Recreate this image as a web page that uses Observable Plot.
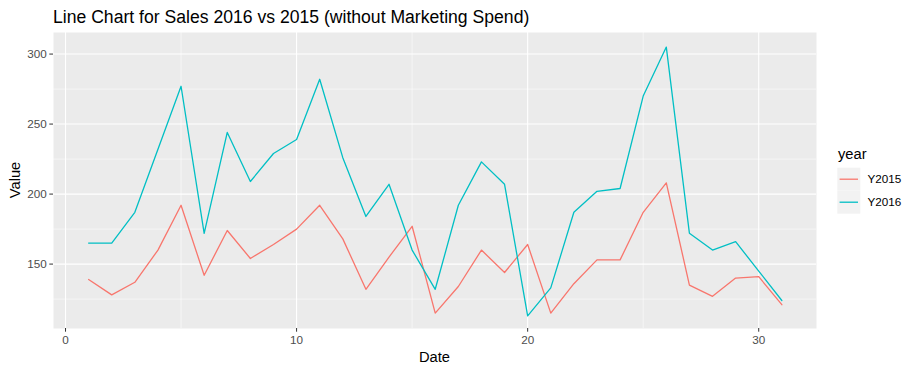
<!DOCTYPE html>
<html>
<head>
<meta charset="utf-8">
<script src="https://cdn.jsdelivr.net/npm/d3@7"></script>
<script src="https://cdn.jsdelivr.net/npm/@observablehq/plot@0.6"></script>
<style>
  html, body { margin: 0; padding: 0; background: white; }
  #chart svg { display: block; }
</style>
</head>
<body>
<div id="chart"></div>
<script>
const titleText = "Line Chart for Sales 2016 vs 2015 (without Marketing Spend)";
const xTitle = "Date";
const yTitle = "Value";
const legendTitle = "year";
const seriesNames = ["Y2015", "Y2016"];
const seriesColors = ["#F8766D", "#00BFC4"];

const dates = [1,2,3,4,5,6,7,8,9,10,11,12,13,14,15,16,17,18,19,20,21,22,23,24,25,26,27,28,29,30,31];
const y2015 = [139,128,137,160,192,142,174,154,164,175,192,168,132,155,177,115,134,160,144,164,115,136,153,153,187,208,135,127,140,141,121];
const y2016 = [165,165,187,232,277,172,244,209,229,239,282,226,184,207,160,132,192,223,207,113,133,187,202,204,270,305,172,160,166,145,124];

const xMajor = [0,10,20,30];
const xMinor = [5,15,25];
const yMajor = [150,200,250,300];
const yMinor = [125,175,225,275];

const rows = [];
dates.forEach((d, i) => {
  rows.push({date: d, value: y2015[i], year: seriesNames[0]});
});
dates.forEach((d, i) => {
  rows.push({date: d, value: y2016[i], year: seriesNames[1]});
});

const W = 918, H = 373;
const mL = 53, mR = 102, mT = 32, mB = 45;
const font = "'Liberation Sans', Arial, sans-serif";

const chart = Plot.plot({
  width: W,
  height: H,
  marginLeft: mL,
  marginRight: mR,
  marginTop: mT,
  marginBottom: mB,
  style: {fontFamily: font, fontSize: "11.7px", background: "white", color: "#4D4D4D"},
  x: {domain: [-0.52, 32.5]},
  y: {domain: [104, 315.4]},
  color: {domain: seriesNames, range: seriesColors},
  marks: [
    Plot.frame({fill: "#EBEBEB", stroke: null}),
    Plot.gridX(xMinor, {stroke: "white", strokeOpacity: 1, strokeWidth: 0.55}),
    Plot.gridY(yMinor, {stroke: "white", strokeOpacity: 1, strokeWidth: 0.55}),
    Plot.gridX(xMajor, {stroke: "white", strokeOpacity: 1, strokeWidth: 1.1}),
    Plot.gridY(yMajor, {stroke: "white", strokeOpacity: 1, strokeWidth: 1.1}),
    Plot.line(rows, {x: "date", y: "value", stroke: "year", z: "year", strokeWidth: 1.3}),
    Plot.axisX(xMajor, {tickSize: 3.7, tickPadding: 3, label: null, color: "#4D4D4D", stroke: "#333333", fontSize: 11.7}),
    Plot.axisY(yMajor, {tickSize: 3.7, tickPadding: 3, label: null, color: "#4D4D4D", stroke: "#333333", fontSize: 11.7})
  ]
});

document.getElementById("chart").appendChild(chart);

const svg = d3.select(chart);

// Title
svg.append("text")
  .attr("x", mL)
  .attr("y", 22.7)
  .attr("text-anchor", "start")
  .attr("font-family", font)
  .attr("font-size", "17.6px")
  .attr("fill", "black")
  .text(titleText);

// Axis titles
svg.append("text")
  .attr("x", (mL + (W - mR)) / 2)
  .attr("y", 362)
  .attr("text-anchor", "middle")
  .attr("font-family", font)
  .attr("font-size", "14.7px")
  .attr("fill", "black")
  .text(xTitle);

svg.append("text")
  .attr("transform", `translate(20,${(mT + (H - mB)) / 2}) rotate(-90)`)
  .attr("text-anchor", "middle")
  .attr("font-family", font)
  .attr("font-size", "14.7px")
  .attr("fill", "black")
  .text(yTitle);

// Legend
const lg = svg.append("g").attr("text-anchor", "start");
lg.append("text")
  .attr("x", 838)
  .attr("y", 159)
  .attr("text-anchor", "start")
  .attr("font-family", font)
  .attr("font-size", "14.7px")
  .attr("fill", "black")
  .text(legendTitle);

seriesNames.forEach((name, i) => {
  const top = 167.7 + i * 23;
  lg.append("rect")
    .attr("x", 837.3).attr("y", top)
    .attr("width", 23).attr("height", 23)
    .attr("fill", "#F2F2F2");
  lg.append("line")
    .attr("x1", 839.6).attr("x2", 858)
    .attr("y1", top + 11.5).attr("y2", top + 11.5)
    .attr("stroke", seriesColors[i])
    .attr("stroke-width", 1.3);
  lg.append("text")
    .attr("x", 867.5)
    .attr("y", top + 11.5)
    .attr("dy", "0.35em")
    .attr("text-anchor", "start")
    .attr("font-family", font)
    .attr("font-size", "11.7px")
    .attr("fill", "black")
    .text(name);
});
</script>
</body>
</html>
